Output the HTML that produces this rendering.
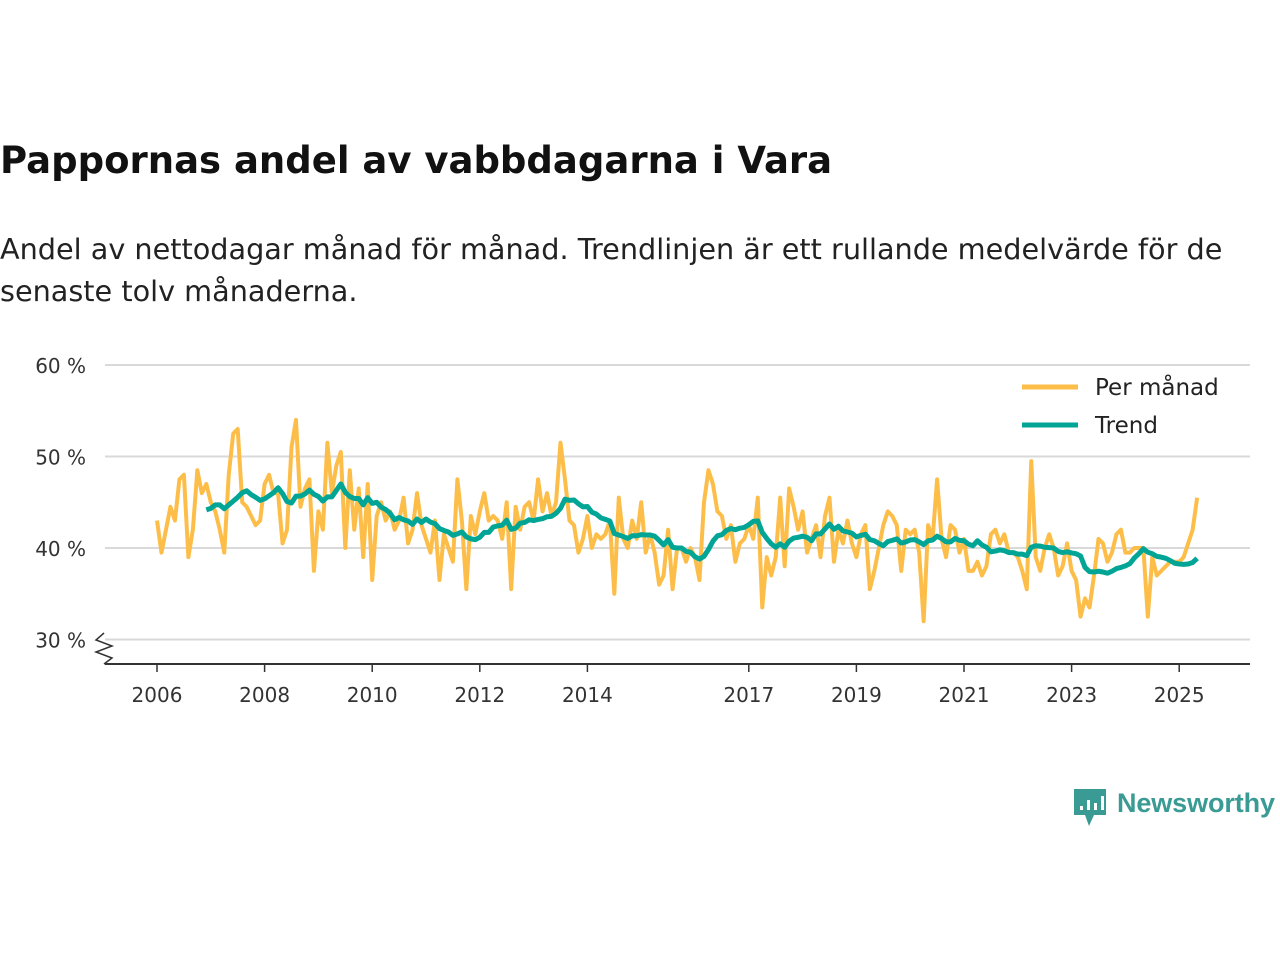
<!DOCTYPE html>
<html><head><meta charset="utf-8">
<style>
body{margin:0;background:#fff;width:1280px;height:960px;overflow:hidden;font-family:"DejaVu Sans","Liberation Sans",sans-serif;color:#111}
#title{position:absolute;left:0;top:139px;font-size:37px;font-weight:bold;margin:0;color:#111;white-space:nowrap}
#sub{position:absolute;left:0;top:228px;font-size:28.7px;line-height:42px;color:#222;white-space:nowrap}
svg{position:absolute;left:0;top:0;font-family:"DejaVu Sans","Liberation Sans",sans-serif}
</style></head><body>
<h1 id="title">Pappornas andel av vabbdagarna i Vara</h1>
<div id="sub">Andel av nettodagar månad för månad. Trendlinjen är ett rullande medelvärde för de<br>senaste tolv månaderna.</div>
<svg id="chart" width="1280" height="960"></svg>
<script>
const yTicks=[30,40,50,60];
const xTickYears=[2006,2008,2010,2012,2014,2017,2019,2021,2023,2025];
const startYear=2006;
const monthly=[
43,39.5,42,44.5,43,47.5,48,39,42,48.5,46,47,
45,44,42,39.5,48,52.5,53,45,44.5,43.5,42.5,43,
47,48,46,46,40.5,42,51,54,44.5,46.5,47.5,37.5,
44,42,51.5,46,49,50.5,40,48.5,42,46.5,39,47,
36.5,43.5,45,43,44,42,43,45.5,40.5,42,46,42.5,
41,39.5,43,36.5,41.5,40,38.5,47.5,43,35.5,43.5,41.5,
44,46,43,43.5,43,41,45,35.5,44.5,42,44.5,45,
43,47.5,44,46,43.5,45,51.5,47.5,43,42.5,39.5,41,
43.5,40,41.5,41,41.5,43,35,45.5,41,40,43,41,
45,39.5,41.5,39.5,36,37,42,35.5,40,40,38.5,40,
39,36.5,45,48.5,47,44,43.5,41,42.5,38.5,40.5,41,
42.5,41,45.5,33.5,39,37,39,45.5,38,46.5,44.5,42,
44,39.5,41,42.5,39,43.5,45.5,38.5,42,40.5,43,40.5,
39,41.5,42.5,35.5,37.5,40,42.5,44,43.5,42.5,37.5,42,
41.5,42,39.5,32,42.5,41,47.5,41,39,42.5,42,39.5,
41,37.5,37.5,38.5,37,38,41.5,42,40.5,41.5,39.5,39.5,
39,37.5,35.5,49.5,39,37.5,40,41.5,40,37,38,40.5,
37.5,36.5,32.5,34.5,33.5,37,41,40.5,38.5,39.5,41.5,42,
39.5,39.5,40,40,40,32.5,39,37,37.5,38,38.5,38.5,
38.5,39,40.5,42,45.5];
const legendLabels=["Per månad","Trend"];

const NS="http://www.w3.org/2000/svg";
const svg=document.getElementById('chart');
const X0=157, PXY=53.8, Y0=548, PXP=9.15;
const xs=i=>X0+(i/12)*PXY;
const xy=yr=>X0+(yr-startYear)*PXY;
const ys=v=>Y0-(v-40)*PXP;
function mk(tag,attrs){const e=document.createElementNS(NS,tag);for(const k in attrs)e.setAttribute(k,attrs[k]);svg.appendChild(e);return e;}

yTicks.forEach(t=>{
  const g=mk('line',{x1:105,x2:1250,y1:ys(t),y2:ys(t),stroke:'#d9d9d9','stroke-width':2});
  
  
  const l=mk('text',{x:86,y:ys(t)+8,'text-anchor':'end','font-size':20,fill:'#333'});
  l.textContent=t+' %';
  
  
});
const br=mk('polyline',{points:'104,633 96,640 112,646 96,652 112,658 104,664',fill:'none',stroke:'#333','stroke-width':1.5});


const ax=mk('line',{x1:105,x2:1250,y1:664,y2:664,stroke:'#333','stroke-width':2});


xTickYears.forEach(yr=>{
  const t=mk('line',{x1:xy(yr),x2:xy(yr),y1:664,y2:672,stroke:'#333','stroke-width':1.5});
  
  
  const l=mk('text',{x:xy(yr),y:702,'text-anchor':'middle','font-size':20,fill:'#333'});
  l.textContent=yr;
  
  
});
const mp=mk('polyline',{points:monthly.map((v,i)=>xs(i)+','+ys(v)).join(' '),fill:'none',stroke:'#fdbe49','stroke-width':4,'stroke-linejoin':'round'});


const trend=[];
for(let i=11;i<monthly.length;i++){let s=0;for(let j=i-11;j<=i;j++)s+=monthly[j];trend.push([i,s/12]);}
const tp=mk('polyline',{points:trend.map(p=>xs(p[0])+','+ys(p[1])).join(' '),fill:'none',stroke:'#00a596','stroke-width':5,'stroke-linejoin':'round'});


const lc=['#fdbe49','#00a596'];
legendLabels.forEach((lab,k)=>{
  const y=387+k*38;
  const l=mk('line',{x1:1022,x2:1078,y1:y,y2:y,stroke:lc[k],'stroke-width':5});
  
  
  const t=mk('text',{x:1095,y:y+8,'font-size':23,fill:'#222'});
  t.textContent=lab;
  
  
});
const logo=mk('path',{d:'M1074 789 h32 v26 h-12 l-5 11 l-4 -11 h-11 z',fill:'#3a9a94'});


[[1080,806,6],[1087,800,12],[1094,803,9],[1101,796,16]].forEach((b,k)=>{
  const r=mk('rect',{x:b[0],y:b[1],width:3,height:b[2]-2,fill:'#fff'});
  
  
});
const lt=mk('text',{x:1117,y:812,'font-size':27,'font-weight':'bold',fill:'#3a9a94','font-family':'Liberation Sans, sans-serif',textLength:158});
lt.textContent='Newsworthy';


</script>
</body></html>
